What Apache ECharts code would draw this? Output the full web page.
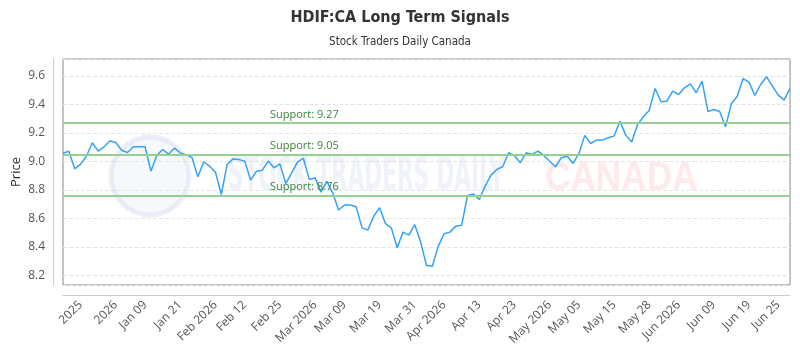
<!DOCTYPE html>
<html>
<head>
<meta charset="utf-8">
<script src="https://cdn.jsdelivr.net/npm/echarts@6/dist/echarts.min.js"></script>
<style>
html, body { margin: 0; padding: 0; background: #fff; }
#chart { width: 800px; height: 350px; }
</style>
</head>
<body>
<div id="chart"></div>
<script>
// price readings, one per point
var prices = [
	9.058, 9.072, 8.948, 8.981, 9.037, 9.131, 9.072, 9.103, 9.143, 9.133,
	9.079, 9.063, 9.103, 9.103, 9.103, 8.932, 9.044, 9.084, 9.051, 9.093,
	9.060, 9.046, 9.028, 8.892, 8.998, 8.967, 8.925, 8.768, 8.979, 9.018,
	9.014, 9.002, 8.869, 8.932, 8.939, 9.002, 8.955, 8.983, 8.845, 8.920,
	8.995, 9.023, 8.874, 8.885, 8.785, 8.860, 8.780, 8.659, 8.694, 8.694,
	8.682, 8.534, 8.518, 8.616, 8.675, 8.563, 8.534, 8.394, 8.504, 8.483,
	8.556, 8.434, 8.270, 8.265, 8.406, 8.492, 8.504, 8.546, 8.553, 8.761,
	8.771, 8.733, 8.827, 8.904, 8.944, 8.963, 9.061, 9.042, 8.991, 9.061,
	9.049, 9.073, 9.042, 9.002, 8.963, 9.026, 9.037, 8.986, 9.056, 9.183,
	9.126, 9.150, 9.150, 9.166, 9.178, 9.283, 9.183, 9.136, 9.260, 9.314,
	9.360, 9.512, 9.419, 9.423, 9.494, 9.470, 9.517, 9.545, 9.482, 9.564,
	9.351, 9.365, 9.351, 9.243, 9.405, 9.458, 9.582, 9.557, 9.463, 9.540,
	9.594, 9.529, 9.465, 9.430, 9.512
];
// x labels and the point each one sits on
var tickLabels = ['2025', '2026', 'Jan 09', 'Jan 21', 'Feb 2026', 'Feb 12', 'Feb 25', 'Mar 2026',
	'Mar 09', 'Mar 19', 'Mar 31', 'Apr 2026', 'Apr 13', 'Apr 23', 'May 2026', 'May 05',
	'May 15', 'May 28', 'Jun 2026', 'Jun 09', 'Jun 19', 'Jun 25'];
var tickIndex = [3, 9, 14, 20, 26, 31, 37, 43, 48, 54, 60, 65, 71, 77, 83, 88, 94, 100, 105, 111, 117, 122];
var supportLevels = [9.27, 9.05, 8.76];

var categories = [];
for (var i = 0; i < prices.length; i++) {
	var k = tickIndex.indexOf(i);
	categories.push(k >= 0 ? tickLabels[k] : '');
}

var chart = echarts.init(document.getElementById('chart'));
var option = {
	backgroundColor: '#fff',
	animation: false,
	title: {
		left: 'center',
		top: 5,
		itemGap: 10,
		text: 'HDIF:CA Long Term Signals',
		subtext: 'Stock Traders Daily Canada',
		textStyle: {
			fontFamily: '"DejaVu Sans Condensed", Roboto, sans-serif',
			fontSize: 16,
			fontWeight: 'bold',
			color: '#333'
		},
		subtextStyle: {
			fontFamily: '"DejaVu Sans Condensed", Roboto, sans-serif',
			fontSize: 11.5,
			color: '#333'
		}
	},
	grid: {
		show: true,
		left: 63,
		right: 10,
		top: 59,
		bottom: 65,
		outerBoundsMode: 'none',
		containLabel: false,
		borderColor: '#888',
		borderWidth: 1
	},
	graphic: [
		{
			type: 'circle',
			z: 1,
			shape: { cx: 150, cy: 176, r: 39 },
			style: { fill: 'rgba(225,232,244,0.3)', stroke: 'rgba(210,220,238,0.45)', lineWidth: 5 }
		},
		{
			type: 'text',
			z: 1,
			x: 228,
			y: 178,
			scaleX: 0.52,
			style: {
				text: 'STOCK TRADERS DAILY',
				font: 'bold 46px "DejaVu Sans Condensed"',
				fill: 'rgba(205,216,232,0.32)',
				verticalAlign: 'middle'
			}
		},
		{
			type: 'text',
			z: 1,
			x: 545,
			y: 179,
			scaleX: 0.88,
			style: {
				text: 'CANADA',
				font: 'bold 40px "Liberation Sans"',
				fill: 'rgba(252,200,205,0.4)',
				verticalAlign: 'middle'
			}
		}
	],
	xAxis: {
		type: 'category',
		data: categories,
		boundaryGap: false,
		offset: 10,
		axisLine: { lineStyle: { color: '#ccc' } },
		axisTick: { show: false },
		axisLabel: {
			interval: function(idx) { return tickIndex.indexOf(idx) >= 0; },
			rotate: 45,
			fontFamily: 'Open Sans',
			fontSize: 12,
			color: '#555'
		},
		splitLine: { show: false }
	},
	yAxis: {
		type: 'value',
		min: 8.133,
		max: 9.719,
		splitNumber: 8,
		offset: 10,
		name: 'Price',
		nameLocation: 'middle',
		nameGap: 30,
		nameMoveOverlap: false,
		nameTextStyle: { fontFamily: 'Open Sans', fontSize: 13, color: '#333' },
		axisLine: { show: true, lineStyle: { color: '#ccc' } },
		axisTick: { show: false },
		axisLabel: {
			showMinLabel: false,
			showMaxLabel: false,
			fontFamily: 'Open Sans',
			fontSize: 12,
			color: '#555',
			formatter: function(v) { return v.toFixed(1); }
		},
		splitLine: { lineStyle: { color: '#e6e6e6', type: 'dashed' } }
	},
	series: [{
		type: 'line',
		data: prices,
		symbol: 'none',
		silent: true,
		z: 3,
		lineStyle: { color: '#36a2f5', width: 1.5 },
		itemStyle: { color: '#36a2f5' },
		markLine: {
			silent: true,
			symbol: 'none',
			lineStyle: { color: '#94cf94', width: 2, type: 'solid' },
			label: {
				position: 'insideStartTop',
				distance: [207, 3],
				fontFamily: 'Open Sans',
				fontSize: 11,
				color: '#3a853a',
				formatter: '{b}'
			},
			data: supportLevels.map(function(v) {
				return { yAxis: v, name: 'Support: ' + v.toFixed(2) };
			})
		}
	}]
};
chart.setOption(option);
</script>
</body>
</html>
